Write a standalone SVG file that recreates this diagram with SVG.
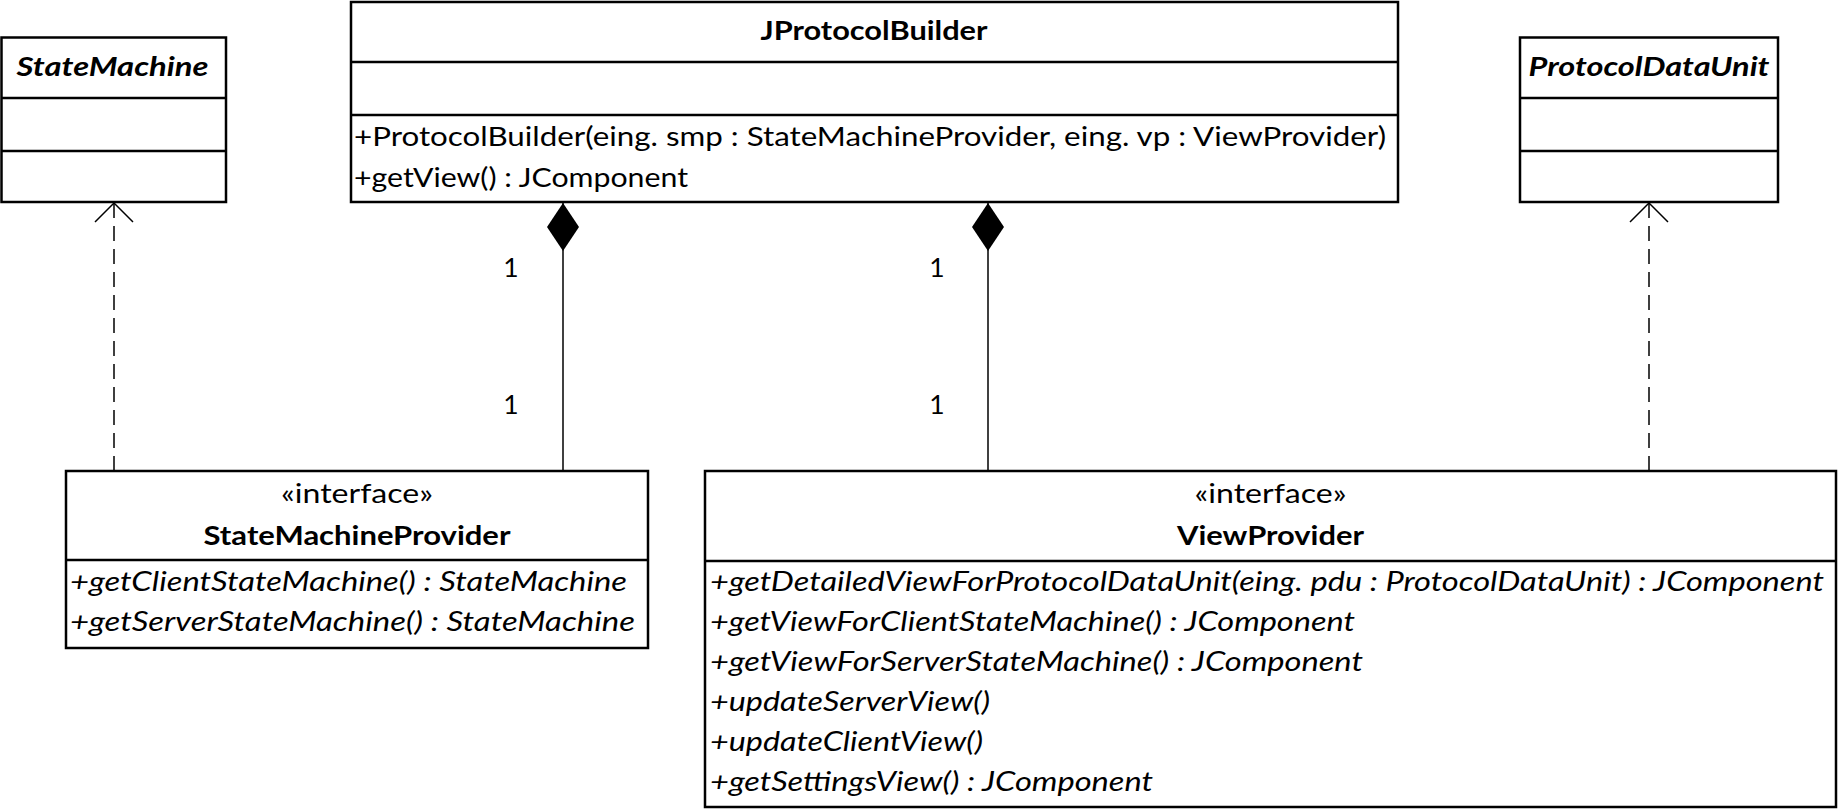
<svg xmlns="http://www.w3.org/2000/svg" width="1839" height="810" viewBox="0 0 1839 810">
<style>
.box{fill:#fff;stroke:#000;stroke-width:2.5}
.div{stroke:#000;stroke-width:2.5;fill:none}
.conn{stroke:#000;stroke-width:1.5;fill:none}
.dash{stroke-dasharray:15 8}
text{font-family:Lato,"Open Sans","Liberation Sans",sans-serif;font-size:26.5px;fill:#000}
.b{font-weight:bold}
.i{font-style:italic}
.c{text-anchor:middle}
</style>
<defs>
<marker id="open" viewBox="-22 -22 44 44" refX="0" refY="0" markerWidth="44" markerHeight="44" markerUnits="userSpaceOnUse" orient="auto">
<path d="M-19,-19 L0,0 L-19,19" fill="none" stroke="#000" stroke-width="1.5"/>
</marker>
<marker id="diamond" viewBox="-50 -18 52 36" refX="0" refY="0" markerWidth="52" markerHeight="36" markerUnits="userSpaceOnUse" orient="auto">
<path d="M0,0 L-24,-16 L-48,0 L-24,16 Z" fill="#000" stroke="none"/>
</marker>
</defs>
<rect width="1839" height="810" fill="#fff"/>

<g id="connectors">
<line class="conn dash" x1="114" y1="471" x2="114" y2="203" marker-end="url(#open)"/>
<line class="conn dash" x1="1649" y1="471" x2="1649" y2="203" marker-end="url(#open)"/>
<line class="conn" x1="563" y1="471" x2="563" y2="203" marker-end="url(#diamond)"/>
<line class="conn" x1="988" y1="471" x2="988" y2="203" marker-end="url(#diamond)"/>
<text x="511" y="277" class="c">1</text>
<text x="511" y="414" class="c">1</text>
<text x="937" y="277" class="c">1</text>
<text x="937" y="414" class="c">1</text>
</g>

<g id="StateMachine">
<rect class="box" x="1.5" y="37.5" width="224.5" height="164.5"/>
<line class="div" x1="1.5" y1="98" x2="226" y2="98"/>
<line class="div" x1="1.5" y1="151" x2="226" y2="151"/>
<text x="112.5" y="76" class="c b i" textLength="192" lengthAdjust="spacingAndGlyphs">StateMachine</text>
</g>

<g id="JProtocolBuilder">
<rect class="box" x="351" y="2" width="1047" height="200"/>
<line class="div" x1="351" y1="62" x2="1398" y2="62"/>
<line class="div" x1="351" y1="115" x2="1398" y2="115"/>
<text x="874" y="40" class="c b" textLength="227" lengthAdjust="spacingAndGlyphs">JProtocolBuilder</text>
<text x="354" y="146" textLength="1032" lengthAdjust="spacingAndGlyphs">+ProtocolBuilder(eing. smp : StateMachineProvider, eing. vp : ViewProvider)</text>
<text x="354" y="187" textLength="334" lengthAdjust="spacingAndGlyphs">+getView() : JComponent</text>
</g>

<g id="ProtocolDataUnit">
<rect class="box" x="1520" y="37.5" width="258" height="164.5"/>
<line class="div" x1="1520" y1="98" x2="1778" y2="98"/>
<line class="div" x1="1520" y1="151" x2="1778" y2="151"/>
<text x="1649" y="76" class="c b i" textLength="241" lengthAdjust="spacingAndGlyphs">ProtocolDataUnit</text>
</g>

<g id="StateMachineProvider">
<rect class="box" x="66" y="471" width="582" height="177"/>
<line class="div" x1="66" y1="560" x2="648" y2="560"/>
<text x="357" y="503" class="c" textLength="152" lengthAdjust="spacingAndGlyphs">«interface»</text>
<text x="357" y="545" class="c b" textLength="307" lengthAdjust="spacingAndGlyphs">StateMachineProvider</text>
<text x="70" y="591" class="i" textLength="557" lengthAdjust="spacingAndGlyphs">+getClientStateMachine() : StateMachine</text>
<text x="70" y="631" class="i" textLength="565" lengthAdjust="spacingAndGlyphs">+getServerStateMachine() : StateMachine</text>
</g>

<g id="ViewProvider">
<rect class="box" x="705" y="471" width="1131" height="336"/>
<line class="div" x1="705" y1="561" x2="1836" y2="561"/>
<text x="1270.5" y="503" class="c" textLength="152" lengthAdjust="spacingAndGlyphs">«interface»</text>
<text x="1270.5" y="545" class="c b" textLength="187" lengthAdjust="spacingAndGlyphs">ViewProvider</text>
<text x="710" y="591" class="i" textLength="1114" lengthAdjust="spacingAndGlyphs">+getDetailedViewForProtocolDataUnit(eing. pdu : ProtocolDataUnit) : JComponent</text>
<text x="710" y="631" class="i" textLength="645" lengthAdjust="spacingAndGlyphs">+getViewForClientStateMachine() : JComponent</text>
<text x="710" y="671" class="i" textLength="653" lengthAdjust="spacingAndGlyphs">+getViewForServerStateMachine() : JComponent</text>
<text x="710" y="711" class="i" textLength="280" lengthAdjust="spacingAndGlyphs">+updateServerView()</text>
<text x="710" y="751" class="i" textLength="273" lengthAdjust="spacingAndGlyphs">+updateClientView()</text>
<text x="710" y="791" class="i" textLength="443" lengthAdjust="spacingAndGlyphs">+getSettingsView() : JComponent</text>
</g>
</svg>
